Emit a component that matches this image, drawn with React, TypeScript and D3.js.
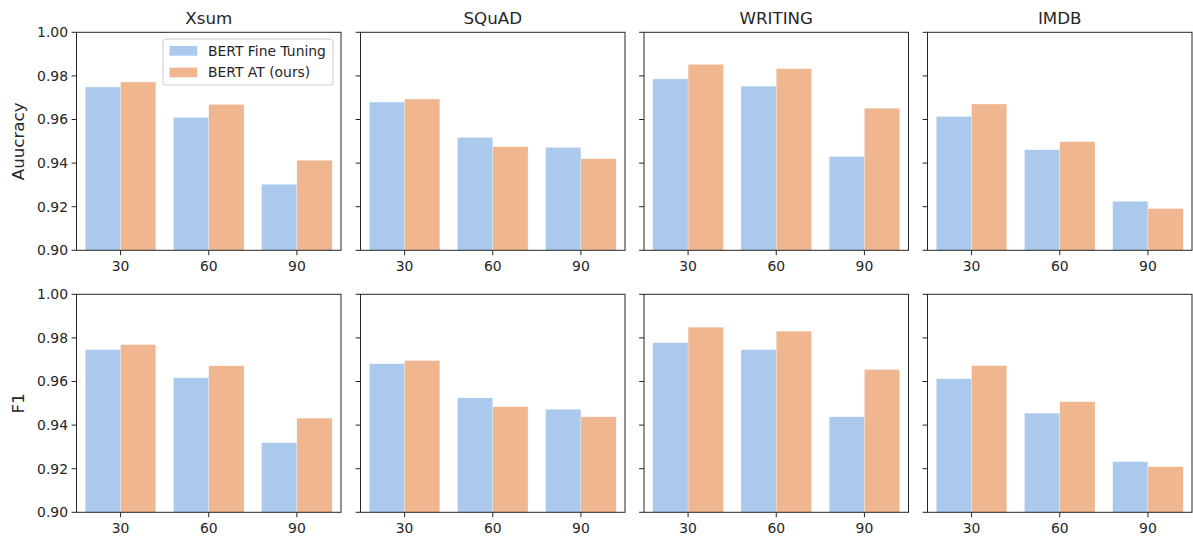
import React from "react";
import * as d3 from "d3";

const datasets = ["Xsum", "SQuAD", "WRITING", "IMDB"];
const categories = ["30", "60", "90"];
const seriesNames = ["BERT Fine Tuning", "BERT AT (ours)"];
const metrics = ["Auucracy", "F1"];
const yTicks = [0.9, 0.92, 0.94, 0.96, 0.98, 1.0];

// accuracy: [dataset][category] for each series
const accFineTuning = [
  [0.9749, 0.961, 0.9303],
  [0.968, 0.9518, 0.9472],
  [0.9786, 0.9753, 0.943],
  [0.9614, 0.9461, 0.9225],
];
const accAT = [
  [0.9772, 0.9669, 0.9413],
  [0.9694, 0.9475, 0.942],
  [0.9853, 0.9833, 0.9652],
  [0.9671, 0.9498, 0.9191],
];
const f1FineTuning = [
  [0.9746, 0.9617, 0.9319],
  [0.9681, 0.9525, 0.9473],
  [0.9778, 0.9746, 0.9438],
  [0.9612, 0.9455, 0.9232],
];
const f1AT = [
  [0.9769, 0.9672, 0.9432],
  [0.9696, 0.9484, 0.9438],
  [0.9849, 0.9831, 0.9655],
  [0.9673, 0.9507, 0.9209],
];

const colors = ["#abc9ec", "#f0b690"];
const W = 1193;
const H = 538;
const panelLefts = [76.5, 360.5, 644, 927.5];
const panelW = 264.5;
const rowTops = [32.3, 294.3];
const panelH = 218;
const ink = "#262626";
const font = "DejaVu Sans, sans-serif";

function Panel({ row, col }: { row: number; col: number }) {
  const left = panelLefts[col];
  const top = rowTops[row];
  const y = d3.scaleLinear().domain([0.9, 1.0]).range([top + panelH, top]);
  const x = d3
    .scaleBand()
    .domain(categories)
    .range([left, left + panelW])
    .paddingInner(0.2)
    .paddingOuter(0.1);
  const sub = d3.scaleBand().domain(["0", "1"]).range([0, x.bandwidth()]);
  const vals = row === 0 ? [accFineTuning[col], accAT[col]] : [f1FineTuning[col], f1AT[col]];
  const base = y(0.9);
  return (
    <g>
      {vals.map((series, si) =>
        series.map((v, ci) => (
          <rect
            key={`${si}-${ci}`}
            x={(x(categories[ci]) as number) + (sub(String(si)) as number)}
            y={y(v)}
            width={sub.bandwidth()}
            height={base - y(v)}
            fill={colors[si]}
            stroke="#f4f8fc"
            strokeWidth={0.3}
          />
        ))
      )}
      <rect x={left} y={top} width={panelW} height={panelH} fill="none" stroke={ink} strokeWidth={1} />
      {yTicks.map((t) => (
        <g key={t}>
          <line x1={left - 4.9} x2={left} y1={y(t)} y2={y(t)} stroke={ink} strokeWidth={1} />
          {col === 0 && (
            <text x={left - 8.5} y={y(t)} dy="0.35em" textAnchor="end" fontSize={13.9} fill={ink} fontFamily={font}>
              {t.toFixed(2)}
            </text>
          )}
        </g>
      ))}
      {categories.map((c) => {
        const cx = (x(c) as number) + x.bandwidth() / 2;
        return (
          <g key={c}>
            <line x1={cx} x2={cx} y1={base} y2={base + 4.9} stroke={ink} strokeWidth={1} />
            <text x={cx} y={base + 20.5} textAnchor="middle" fontSize={13.9} fill={ink} fontFamily={font}>
              {c}
            </text>
          </g>
        );
      })}
      {row === 0 && (
        <text x={left + panelW / 2} y={top - 8.5} textAnchor="middle" fontSize={16.7} fill={ink} fontFamily={font}>
          {datasets[col]}
        </text>
      )}
      {col === 0 && (
        <text
          transform={`translate(${24},${top + panelH / 2}) rotate(-90)`}
          textAnchor="middle"
          fontSize={16.7}
          fill={ink}
          fontFamily={font}
        >
          {metrics[row]}
        </text>
      )}
    </g>
  );
}

function Legend() {
  const lx = 163;
  const ly = 39;
  return (
    <g>
      <rect x={lx} y={ly} width={170} height={46} rx={3} fill="#ffffff" fillOpacity={0.8} stroke="#cccccc" strokeWidth={1} />
      {seriesNames.map((s, i) => (
        <g key={s}>
          <rect x={lx + 6.5} y={ly + 7 + i * 21.6} width={27.8} height={9.7} fill={colors[i]} />
          <text x={lx + 45} y={ly + 12 + i * 21.6} dy="0.35em" fontSize={13.9} fill={ink} fontFamily={font}>
            {s}
          </text>
        </g>
      ))}
    </g>
  );
}

export default function App() {
  return (
    <svg width={W} height={H} style={{ position: "absolute", left: 0, top: 0, background: "#fff" }}>
      <rect width={W} height={H} fill="#fff" />
      {[0, 1].map((r) => [0, 1, 2, 3].map((c) => <Panel key={`${r}-${c}`} row={r} col={c} />))}
      <Legend />
    </svg>
  );
}
